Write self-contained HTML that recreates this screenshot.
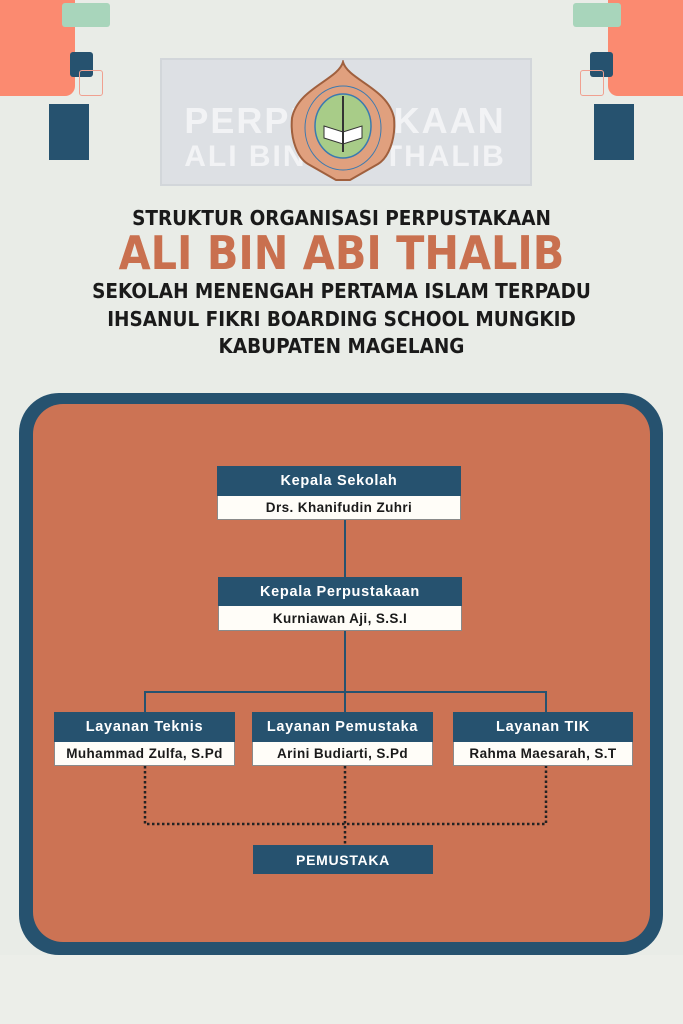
<!DOCTYPE html>
<html><head><meta charset="utf-8"><style>
*{margin:0;padding:0;box-sizing:border-box}
body{width:683px;height:1024px;position:relative;overflow:hidden;background:#e9ece7;font-family:"Liberation Sans",sans-serif}
.a{position:absolute}
.t{position:absolute;left:0;width:683px;text-align:center;font-weight:bold;color:#1a1a1a;font-family:"DejaVu Sans Condensed","DejaVu Sans","Liberation Sans",sans-serif}
.box{position:absolute;text-align:center}
.h{background:#26526f;color:#fff;font-weight:bold;font-size:14.5px;letter-spacing:.7px;display:flex;align-items:center;justify-content:center}
.n{background:#fffdf8;color:#1a1a1a;font-weight:bold;font-size:13.5px;letter-spacing:.4px;display:flex;align-items:center;justify-content:center;border:1px solid #8a8a8a;border-top:none}
</style></head><body>
<div class="a" style="left:160px;top:58px;width:372px;height:128px;background:#dde0e4;border:2px solid #d2d6da"></div>
<div class="a" style="left:180px;top:100px;width:330px;text-align:center;font:bold 36px 'Liberation Sans';color:#f2f3f5;letter-spacing:2px">PERPUSTAKAAN</div>
<div class="a" style="left:180px;top:140px;width:330px;text-align:center;font:bold 30px 'Liberation Sans';color:#f2f3f5;letter-spacing:2px">ALI BIN ABI THALIB</div>
<div class="a" style="left:0;top:955px;width:683px;height:69px;background:#eceee9"></div>
<div class="a" style="left:0;top:0;width:75px;height:96px;background:#fb8a70;border-radius:0 0 10px 0"></div>
<div class="a" style="left:62px;top:3px;width:48px;height:24px;background:#a8d5bb;border-radius:3px"></div>
<div class="a" style="left:70px;top:52px;width:23px;height:25px;background:#26526f;border-radius:3px"></div>
<div class="a" style="left:49px;top:104px;width:40px;height:56px;background:#26526f"></div>
<div class="a" style="left:79px;top:70px;width:24px;height:26px;border:1px solid #f0a090;border-radius:3px"></div>
<div class="a" style="left:608px;top:0;width:75px;height:96px;background:#fb8a70;border-radius:0 0 0 10px"></div>
<div class="a" style="left:573px;top:3px;width:48px;height:24px;background:#a8d5bb;border-radius:3px"></div>
<div class="a" style="left:590px;top:52px;width:23px;height:25px;background:#26526f;border-radius:3px"></div>
<div class="a" style="left:594px;top:104px;width:40px;height:56px;background:#26526f"></div>
<div class="a" style="left:580px;top:70px;width:24px;height:26px;border:1px solid #f0a090;border-radius:3px"></div>
<svg class="a" style="left:288px;top:60px" width="110" height="122" viewBox="0 0 110 122">
<path d="M55 2 C50 20 10 28 4 58 C2 80 10 98 20 104 L48 120 L62 120 L90 104 C100 98 108 80 106 58 C100 28 60 20 55 2Z" fill="#e0a07e" stroke="#a0603e" stroke-width="2"/>
<ellipse cx="55" cy="68" rx="38" ry="42" fill="none" stroke="#3a7ab0" stroke-width="1"/>
<ellipse cx="55" cy="66" rx="28" ry="32" fill="#a8cc88" stroke="#3a7ab0" stroke-width="1.5"/>
<path d="M36 66 L55 72 L74 66 L74 78 L55 84 L36 78Z" fill="#fff" stroke="#333"/>
<line x1="55" y1="36" x2="55" y2="92" stroke="#333" stroke-width="2"/>
</svg>
<div class="t" style="top:206px;font-size:20.5px">STRUKTUR ORGANISASI PERPUSTAKAAN</div>
<div class="t" style="top:226px;font-size:46px;color:#c9704f">ALI BIN ABI THALIB</div>
<div class="t" style="top:279px;font-size:20.5px">SEKOLAH MENENGAH PERTAMA ISLAM TERPADU</div>
<div class="t" style="top:307px;font-size:20.5px">IHSANUL FIKRI BOARDING SCHOOL MUNGKID</div>
<div class="t" style="top:334px;font-size:20.5px">KABUPATEN MAGELANG</div>
<div class="a" style="left:19px;top:393px;width:644px;height:562px;background:#26526f;border-radius:40px"></div>
<div class="a" style="left:33px;top:404px;width:617px;height:538px;background:#cc7354;border-radius:30px"></div>
<svg class="a" style="left:0;top:0" width="683" height="1024">
<g stroke="#26526f" stroke-width="2" fill="none">
<line x1="345" y1="520" x2="345" y2="577"/>
<line x1="345" y1="631" x2="345" y2="712"/>
<path d="M145 712 V692 H546 V712"/>
</g>
<g stroke="#222" stroke-width="2.5" fill="none" stroke-dasharray="2.5 2.5">
<path d="M145 766 V824 H546 V766"/>
<line x1="345" y1="766" x2="345" y2="845"/>
</g>
</svg>
<div class="box" style="left:217px;top:466px;width:244px"><div class="h" style="height:30px">Kepala Sekolah</div><div class="n" style="height:24px">Drs. Khanifudin Zuhri</div></div>
<div class="box" style="left:218px;top:577px;width:244px"><div class="h" style="height:29px">Kepala Perpustakaan</div><div class="n" style="height:25px">Kurniawan Aji, S.S.I</div></div>
<div class="box" style="left:54px;top:712px;width:181px"><div class="h" style="height:30px">Layanan Teknis</div><div class="n" style="height:24px">Muhammad Zulfa, S.Pd</div></div>
<div class="box" style="left:252px;top:712px;width:181px"><div class="h" style="height:30px">Layanan Pemustaka</div><div class="n" style="height:24px">Arini Budiarti, S.Pd</div></div>
<div class="box" style="left:453px;top:712px;width:180px"><div class="h" style="height:30px">Layanan TIK</div><div class="n" style="height:24px">Rahma Maesarah, S.T</div></div>
<div class="box" style="left:253px;top:845px;width:180px"><div class="h" style="height:29px;font-size:14px">PEMUSTAKA</div></div>
</body></html>
